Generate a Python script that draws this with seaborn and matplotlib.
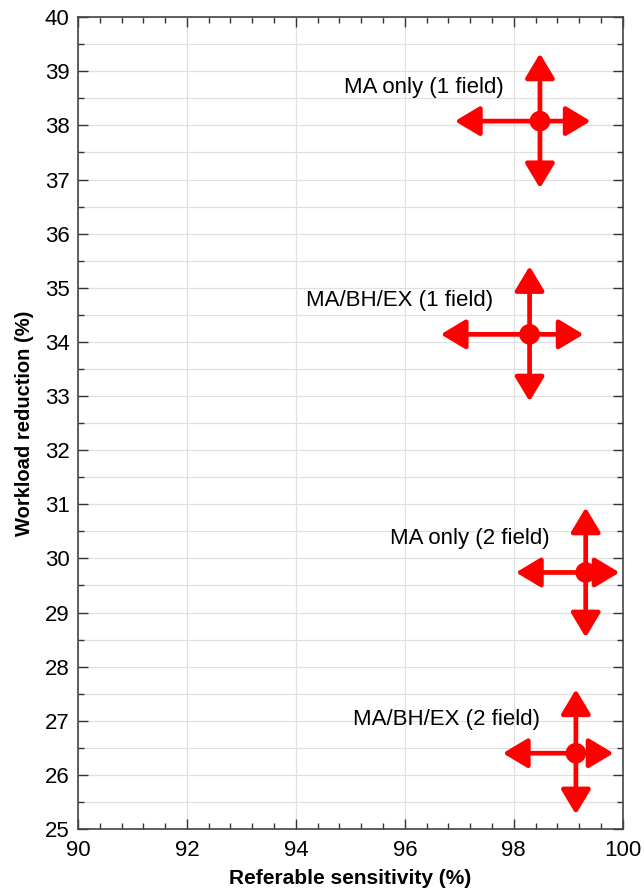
import matplotlib
matplotlib.use("Agg")
import matplotlib.pyplot as plt
from matplotlib.ticker import MultipleLocator
import pandas as pd
import seaborn as sns

# values
labels = ['MA only (1 field)', 'MA/BH/EX (1 field)', 'MA only (2 field)', 'MA/BH/EX (2 field)']
sensitivity = [98.48, 98.29, 99.32, 99.14]
sens_low = [96.92, 96.66, 98.04, 97.80]
sens_high = [99.41, 99.28, 99.94, 99.83]
workload = [38.08, 34.14, 29.74, 26.40]
work_low = [36.84, 32.90, 28.54, 25.27]
work_high = [39.33, 35.40, 30.94, 27.58]

RED = '#ff0000'

sns.set_style("whitegrid")
plt.rcParams['font.family'] = ['Liberation Sans', 'DejaVu Sans']

df = pd.DataFrame({'sens': sensitivity, 'work': workload, 'label': labels})

fig = plt.figure(figsize=(6.44, 8.96), dpi=100)
ax = fig.add_axes([0.121, 0.0748, 0.846, 0.906])

# error arrows first, dot on top
arrow = dict(arrowstyle='-|>,head_length=1.0,head_width=0.6', color=RED, lw=3.4,
             shrinkA=0, shrinkB=0, mutation_scale=15)
for i in range(len(labels)):
    c = (sensitivity[i], workload[i])
    for end in [(sens_low[i], workload[i]), (sens_high[i], workload[i]),
                (sensitivity[i], work_low[i]), (sensitivity[i], work_high[i])]:
        ax.annotate('', xy=end, xytext=c, arrowprops=arrow, zorder=3)
    ax.annotate(labels[i], xy=c, xytext=(-36, 34), textcoords='offset pixels',
                ha='right', va='center', fontsize=16, color='black')

sns.scatterplot(data=df, x='sens', y='work', color=RED, s=220, edgecolor='none',
                zorder=4, ax=ax, legend=False)

ax.set_xlim(90, 100)
ax.set_ylim(25, 40)
ax.xaxis.set_major_locator(MultipleLocator(2))
ax.xaxis.set_minor_locator(MultipleLocator(0.4))
ax.yaxis.set_major_locator(MultipleLocator(1))
ax.yaxis.set_minor_locator(MultipleLocator(0.5))

ax.grid(False)
ax.grid(True, axis='x', which='major', color='#e0e0e0', lw=0.9)
ax.grid(True, axis='y', which='both', color='#e0e0e0', lw=0.9)
ax.set_axisbelow(True)

ax.tick_params(which='both', direction='in', top=True, right=True,
               bottom=True, left=True, color='#333333', labelcolor='black')
ax.tick_params(which='major', length=7, width=1, labelsize=16)
ax.tick_params(axis='x', which='major', pad=8)
ax.tick_params(axis='y', which='major', pad=6)
ax.tick_params(which='minor', length=4, width=1)
for s in ax.spines.values():
    s.set_color('#444444')
    s.set_linewidth(1.2)

ax.set_xlabel('Referable sensitivity (%)', fontsize=15, fontweight='bold',
              labelpad=6, color='black')
ax.set_ylabel('Workload reduction (%)', fontsize=14.5, fontweight='bold',
              labelpad=8, color='black')

fig.savefig('out.png', dpi=100)
